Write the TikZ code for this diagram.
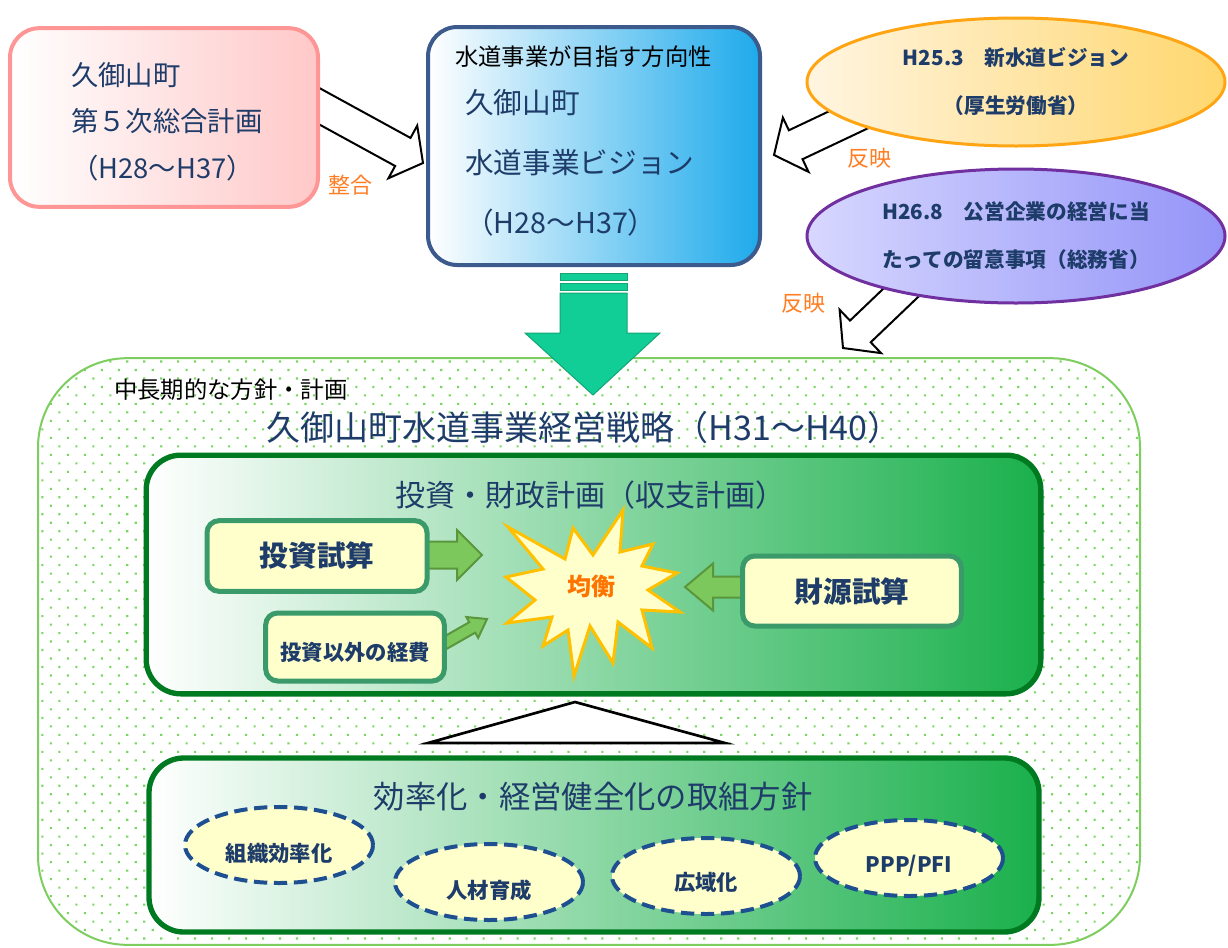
\documentclass[tikz,border=0pt]{standalone}
\usepackage{fontspec}
\setmainfont{Noto Sans CJK JP}
\usetikzlibrary{shapes.geometric,patterns.meta}
\definecolor{txtblue}{RGB}{30,60,105}
\definecolor{pinkline}{RGB}{255,150,150}
\definecolor{pinkfill}{RGB}{255,200,200}
\definecolor{navyline}{RGB}{60,90,140}
\definecolor{skyfill}{RGB}{30,170,235}
\definecolor{orline}{RGB}{255,165,20}
\definecolor{orleft}{RGB}{255,245,225}
\definecolor{orright}{RGB}{255,215,110}
\definecolor{puline}{RGB}{112,48,160}
\definecolor{puleft}{RGB}{215,215,255}
\definecolor{puright}{RGB}{148,148,248}
\definecolor{tealfill}{RGB}{16,206,150}
\definecolor{tealline}{RGB}{20,165,115}
\definecolor{dotgreen}{RGB}{120,215,95}
\definecolor{outline}{RGB}{125,205,95}
\definecolor{darkgreen}{RGB}{0,122,32}
\definecolor{boxgreen}{RGB}{26,176,76}
\definecolor{cardline}{RGB}{58,154,106}
\definecolor{cream}{RGB}{255,255,204}
\definecolor{leafgreen}{RGB}{124,200,92}
\definecolor{leafline}{RGB}{90,150,60}
\definecolor{burstline}{RGB}{255,192,0}
\definecolor{orangetxt}{RGB}{255,125,35}
\definecolor{dashblue}{RGB}{30,80,145}
% block arrow: [style]{tip}{angle}{length}{shaft half}{head half}{head length}
\newcommand{\blockarrow}[7][]{%
  \draw[#1,shift={(#2)},rotate=#3] (0,0) -- (-#7,#6) -- (-#7,#5) -- (-#4,#5)
    -- (-#4,-#5) -- (-#7,-#5) -- (-#7,-#6) -- cycle;}
\begin{document}
\begin{tikzpicture}[x=0.75pt,y=-0.75pt,
    txt/.style={text=txtblue,inner sep=0pt},
    hollow/.style={draw=black,fill=white,line width=1.5pt,line join=miter},
    leaf/.style={draw=leafline,fill=leafgreen,line width=1.5pt},
    card/.style={draw=cardline,fill=cream,line width=3.75pt,rounded corners=9pt,
      text=txtblue,font=\fontsize{21.5}{26}\selectfont\bfseries},
    plan/.style={draw=darkgreen,line width=4pt,rounded corners=26pt,
      left color=white,middle color=boxgreen!20!white,right color=boxgreen},
    policy/.style={ellipse,draw=dashblue,fill=cream,line width=3pt,
      dash pattern=on 10pt off 5pt,minimum width=141pt,minimum height=57pt},
    orange/.style={text=orangetxt,inner sep=0pt,font=\fontsize{16.5}{20}\selectfont}]
  \useasboundingbox (0,0) rectangle (1228,947);
  % outer frame with dots
  \node[draw=outline,line width=1.5pt,rounded corners=67pt,preaction={fill=white},
    pattern={Dots[distance=9pt,angle=45,radius=1.1pt]},pattern color=dotgreen,
    minimum width=826.5pt,minimum height=440pt] (frame) at (589,651.5) {};
  \node[txt,text=black,anchor=west,font=\fontsize{17.5}{20}\selectfont] (frameT) at (114,390) {中長期的な方針・計画};
  \node[txt,font=\fontsize{25.5}{30}\selectfont] (title) at (584,428) {久御山町水道事業経営戦略（H31～H40）};
  % investment / finance plan
  \node[plan,minimum width=671pt,minimum height=179pt] (finance) at (593.5,574.5) {};
  \node[txt,font=\fontsize{22.5}{27}\selectfont] (financeT) at (590,495) {投資・財政計画（収支計画）};
  \coordinate (tipA) at (482,555);
  \coordinate (tipB) at (487,619);
  \coordinate (tipC) at (685,587);
  \blockarrow[leaf]{tipA}{0}{62}{13.5}{25}{25}
  \blockarrow[leaf]{tipB}{29.7}{52}{6}{12}{17}
  \blockarrow[leaf]{tipC}{180}{68}{10.5}{23.5}{28}
  \node[card,minimum width=165pt,minimum height=53pt] (invest) at (317,556) {投資試算};
  \node[card,minimum width=134pt,minimum height=51pt] (expense) at (355,647) {};
  \node[txt,font=\fontsize{16}{20}\selectfont\bfseries] (expenseT) at (355,652) {投資以外の経費};
  \node[card,minimum width=164pt,minimum height=52.5pt] (source) at (852,591) {財源試算};
  \draw[draw=burstline,fill=cream,line width=2.25pt,line join=miter]
    (508,527) -- (565,559) -- (573,528) -- (593,555) -- (623,510) -- (620,552)
    -- (653,544) -- (642,566) -- (677,573) -- (648,590) -- (680,612) -- (642,610)
    -- (652,648) -- (618,622) -- (613,663) -- (590,626) -- (574,676) -- (568,630)
    -- (543,646) -- (552,617) -- (507,623) -- (535,600) -- (506,577) -- (543,569) -- cycle;
  \node[orange,text=orange!90!red,font=\fontsize{18}{22}\selectfont\bfseries] (balance) at (591,586) {均衡};
  % triangle between the plans
  \draw[draw=black,fill=white,line width=2pt,line join=miter] (575,702) -- (725,743) -- (428,743) -- cycle;
  % efficiency measures
  \node[plan,minimum width=667.5pt,minimum height=130.5pt] (measure) at (594,845) {};
  \node[txt,font=\fontsize{23.5}{28}\selectfont] (measureT) at (593,797) {効率化・経営健全化の取組方針};
  \node[policy] (org) at (279,845) {};
  \node[policy] (staff) at (489,882) {};
  \node[policy] (wide) at (706,876) {};
  \node[policy] (ppp) at (909,858) {};
  \node[txt,font=\fontsize{16}{20}\selectfont\bfseries] (orgT) at ([yshift=-6pt]org) {組織効率化};
  \node[txt,font=\fontsize{16}{20}\selectfont\bfseries] (staffT) at ([yshift=-6pt]staff) {人材育成};
  \node[txt,font=\fontsize{16}{20}\selectfont\bfseries] (wideT) at ([yshift=-5pt]wide) {広域化};
  \node[txt,font=\fontsize{16}{20}\selectfont\bfseries] (pppT) at ([yshift=-6pt]ppp) {PPP/PFI};
  % hollow arrows
  \coordinate (tipP) at (423,163);
  \coordinate (tipQ) at (774,155);
  \coordinate (tipR) at (843,348);
  \blockarrow[hollow]{tipP}{-28.7}{130}{16}{30}{23}
  \blockarrow[hollow]{tipQ}{205.3}{110}{16}{30}{24}
  \blockarrow[hollow]{tipR}{223.7}{100}{15}{30}{24}
  % upper plans
  \node[draw=pinkline,line width=3pt,rounded corners=22pt,left color=white,right color=pinkfill,
    minimum width=231pt,minimum height=134pt] (town) at (164,117.5) {};
  \node[txt,anchor=west,align=left,font=\fontsize{20.5}{35}\selectfont] (townT) at (71,121.5)
    {久御山町\\第５次総合計画\\（H28～H37）};
  \node[draw=navyline,line width=3pt,rounded corners=22pt,left color=white,
    middle color=skyfill!40!white,right color=skyfill,
    minimum width=249pt,minimum height=178.5pt] (vision) at (594,146) {};
  \node[txt,text=black,anchor=west,font=\fontsize{17.5}{20}\selectfont] (visionS) at (455,57) {水道事業が目指す方向性};
  \node[txt,anchor=west,align=left,font=\fontsize{21.5}{45}\selectfont] (visionT) at (465,163)
    {久御山町\\水道事業ビジョン\\（H28～H37）};
  \node[ellipse,draw=orline,line width=2.25pt,left color=orleft,right color=orright,
    minimum width=313.5pt,minimum height=96pt,text=txtblue,align=center,
    font=\fontsize{15.5}{36}\selectfont\bfseries] (mhlw) at (1016,82)
    {H25.3　新水道ビジョン\\（厚生労働省）};
  \node[ellipse,draw=puline,line width=2.25pt,left color=puleft,right color=puright,
    minimum width=313.5pt,minimum height=100.5pt,text=txtblue,align=center,
    font=\fontsize{15.5}{36}\selectfont\bfseries] (mic) at (1016,236)
    {H26.8　公営企業の経営に当\\たっての留意事項（総務省）};
  \node[orange] (matchT) at (350,185) {整合};
  \node[orange] (reflectA) at (869,158) {反映};
  \node[orange] (reflectB) at (803,303) {反映};
  % big down arrow
  \draw[draw=tealline,fill=tealfill,line width=0.75pt] (560,273) rectangle (627,280);
  \draw[draw=tealline,fill=tealfill,line width=0.75pt] (560,283) rectangle (627,290);
  \draw[draw=tealline,fill=tealfill,line width=0.75pt,line join=miter]
    (560,293) -- (627,293) -- (627,333) -- (660,333) -- (593,395) -- (525,333) -- (560,333) -- cycle;
\end{tikzpicture}
\end{document}
